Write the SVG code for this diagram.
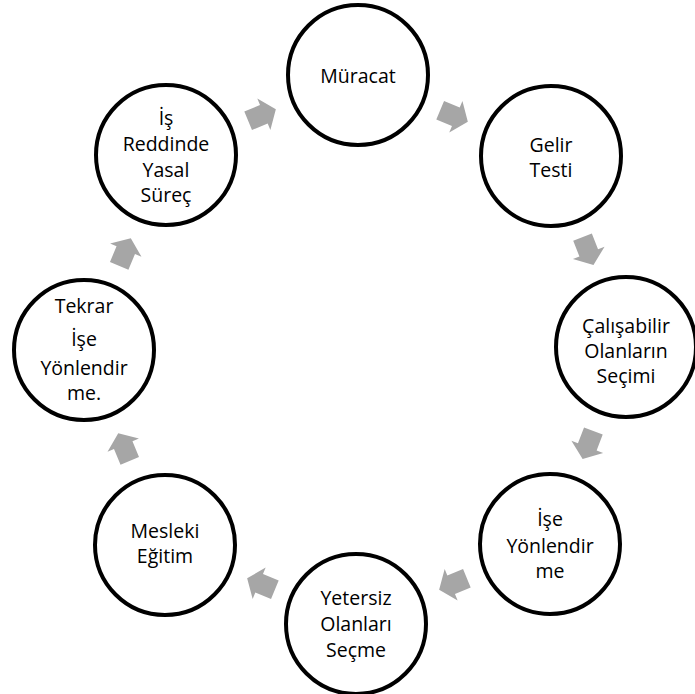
<svg xmlns="http://www.w3.org/2000/svg" width="695" height="694" viewBox="0 0 695 694">
<style>
.n circle{fill:#fff;stroke:#000;stroke-width:4}
.n text{font-family:"Open Sans","Noto Sans","Liberation Sans",sans-serif;font-size:19.5px;fill:#000;text-anchor:middle}
.a{fill:#a6a6a6}
</style>
<defs>
<polygon id="arr" points="-15,-10 2,-10 2,-17 15,0 2,17 2,10 -15,10"/>
</defs>
<rect width="695" height="694" fill="#fff"/>
<g id="connectors">
<use href="#arr" class="a" transform="translate(262,115) rotate(-22.6)"/>
<use href="#arr" class="a" transform="translate(454,116) rotate(22.8)"/>
<use href="#arr" class="a" transform="translate(588,251) rotate(68.6)"/>
<use href="#arr" class="a" transform="translate(588,445) rotate(111)"/>
<use href="#arr" class="a" transform="translate(453,584) rotate(157.6)"/>
<use href="#arr" class="a" transform="translate(261,584) rotate(202.5)"/>
<use href="#arr" class="a" transform="translate(124,447) rotate(247.4)"/>
<use href="#arr" class="a" transform="translate(125,252) rotate(-67.2)"/>
</g>
<g id="muracat" class="n"><circle cx="358" cy="75" r="70"/><text x="358" y="83">Müracat</text></g>
<g id="gelir" class="n"><circle cx="551" cy="156" r="70"/><text x="551" y="152">Gelir</text><text x="551" y="177">Testi</text></g>
<g id="calisabilir" class="n"><circle cx="626" cy="347" r="70"/><text x="626" y="333">Çalışabilir</text><text x="626" y="358">Olanların</text><text x="626" y="383">Seçimi</text></g>
<g id="ise" class="n"><circle cx="550" cy="544" r="70"/><text x="550" y="526">İşe</text><text x="550" y="553">Yönlendir</text><text x="550" y="578">me</text></g>
<g id="yetersiz" class="n"><circle cx="356" cy="624" r="70"/><text x="356" y="605">Yetersiz</text><text x="356" y="631">Olanları</text><text x="356" y="657">Seçme</text></g>
<g id="mesleki" class="n"><circle cx="165" cy="545" r="70"/><text x="165" y="538">Mesleki</text><text x="165" y="563">Eğitim</text></g>
<g id="tekrar" class="n"><circle cx="84" cy="350" r="70"/><text x="84" y="313">Tekrar</text><text x="84" y="346">İşe</text><text x="84" y="375">Yönlendir</text><text x="84" y="400">me.</text></g>
<g id="isreddinde" class="n"><circle cx="166" cy="155" r="70"/><text x="166" y="125">İş</text><text x="166" y="151">Reddinde</text><text x="166" y="177">Yasal</text><text x="166" y="202">Süreç</text></g>
</svg>
